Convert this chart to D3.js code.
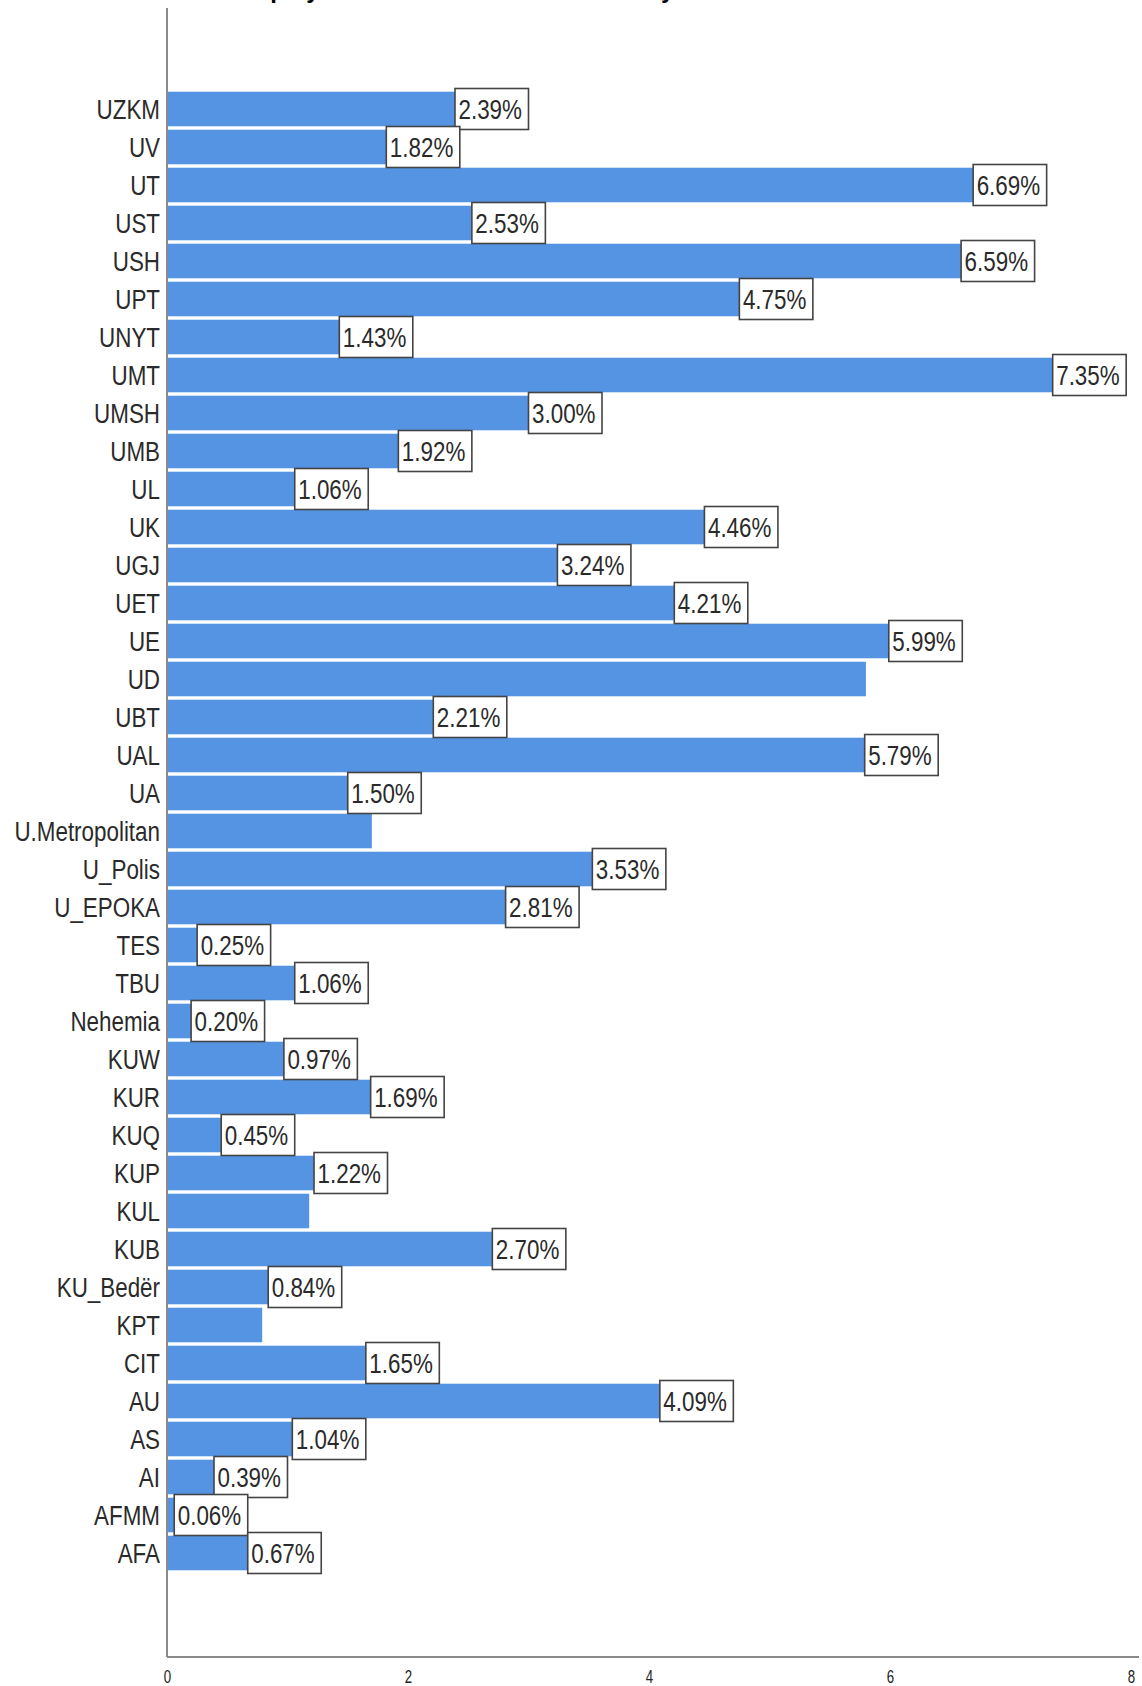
<!DOCTYPE html>
<html>

<head>
  <script src="https://d3js.org/d3.v7.min.js"></script>
  <style>
    body {
      margin: 0;
      background: #fff;
    }

    .chart text {
      font-family: "Liberation Sans", Arial, sans-serif;
    }

    .bar {
      fill: #5593e3;
    }

    .axis-line {
      stroke: #8a8a8a;
      stroke-width: 2;
    }

    .value-box {
      fill: #fff;
      stroke: #444;
      stroke-width: 1.6;
    }

    .title {
      font-size: 24px;
      font-weight: bold;
      fill: #000;
    }
  </style>
</head>

<body>
  <div id="viz"></div>

  <script>
    // universities, top to bottom
    const universities = ["UZKM", "UV", "UT", "UST", "USH", "UPT", "UNYT", "UMT", "UMSH", "UMB",
      "UL", "UK", "UGJ", "UET", "UE", "UD", "UBT", "UAL", "UA", "U.Metropolitan",
      "U_Polis", "U_EPOKA", "TES", "TBU", "Nehemia", "KUW", "KUR", "KUQ", "KUP", "KUL",
      "KUB", "KU_Bedër", "KPT", "CIT", "AU", "AS", "AI", "AFMM", "AFA"];

    // percentage per university
    const percents = [2.39, 1.82, 6.69, 2.53, 6.59, 4.75, 1.43, 7.35, 3.00, 1.92,
      1.06, 4.46, 3.24, 4.21, 5.99, 5.80, 2.21, 5.79, 1.50, 1.70,
      3.53, 2.81, 0.25, 1.06, 0.20, 0.97, 1.69, 0.45, 1.22, 1.18,
      2.70, 0.84, 0.79, 1.65, 4.09, 1.04, 0.39, 0.06, 0.67];

    // bars whose value label is not shown in the original
    const unlabelled = ["UD", "U.Metropolitan", "KUL", "KPT"];

    const xTicks = [0, 2, 4, 6, 8];

    const titleText = "Employment rate of all the students by institution";

    const data = universities.map((u, i) => ({ name: u, value: percents[i] }));

    const width = 1142, height = 1686;
    const svg = d3.select("#viz")
      .append("svg")
      .attr("class", "chart")
      .attr("width", width)
      .attr("height", height);

    const x = d3.scaleLinear()
      .domain([0, 8])
      .range([167, 1131]);

    const y = d3.scaleBand()
      .domain(universities)
      .range([90, 1572])
      .paddingInner(0.09)
      .paddingOuter(0.045);

    // title (cut off at the top, as in the original)
    svg.append("text")
      .attr("class", "title")
      .attr("x", 233)
      .attr("y", -2)
      .text(titleText);

    // bars
    svg.append("g")
      .selectAll("rect")
      .data(data)
      .enter().append("rect")
      .attr("class", "bar")
      .attr("x", x(0))
      .attr("y", d => y(d.name))
      .attr("width", d => x(d.value) - x(0))
      .attr("height", y.bandwidth());

    // y axis labels
    const yAxis = svg.append("g")
      .attr("transform", "translate(160,0)")
      .call(d3.axisLeft(y).tickSize(0).tickPadding(0));
    yAxis.select(".domain").remove();
    yAxis.selectAll("text")
      .attr("x", 0)
      .attr("dy", 0)
      .attr("y", 10)
      .attr("transform", "scale(0.8,1)")
      .attr("fill", "#2a2a2a")
      .style("font-size", "28px")
      .style("font-family", '"Liberation Sans", Arial, sans-serif');

    // x axis labels
    const axisY = 1657;
    const xAxis = svg.append("g")
      .attr("transform", `translate(0,${axisY})`)
      .call(d3.axisBottom(x).tickValues(xTicks).tickSize(0).tickFormat(d3.format("d")));
    xAxis.select(".domain").remove();
    xAxis.selectAll("text")
      .attr("y", 26)
      .attr("dy", 0)
      .attr("transform", "scale(0.7,1)")
      .attr("fill", "#222")
      .style("font-size", "19px")
      .style("font-family", '"Liberation Sans", Arial, sans-serif');

    // axis lines
    svg.append("line")
      .attr("class", "axis-line")
      .attr("x1", x(0)).attr("x2", x(0))
      .attr("y1", 8).attr("y2", axisY);
    svg.append("line")
      .attr("class", "axis-line")
      .attr("x1", x(0)).attr("x2", x.range()[1] + 8)
      .attr("y1", axisY).attr("y2", axisY);

    // value labels in boxes
    const labels = svg.append("g")
      .selectAll("g")
      .data(data.filter(d => !unlabelled.includes(d.name)))
      .enter().append("g")
      .attr("transform", d => `translate(${x(d.value)},${y(d.name) + y.bandwidth() / 2})`);

    const boxes = labels.append("rect")
      .attr("class", "value-box")
      .attr("y", -20.5)
      .attr("height", 41);

    labels.append("text")
      .attr("transform", "translate(3.5,10) scale(0.8,1)")
      .attr("fill", "#2a2a2a")
      .style("font-size", "28px")
      .text(d => d.value.toFixed(2) + "%");

    labels.each(function () {
      const g = d3.select(this);
      const w = g.select("text").node().getComputedTextLength() * 0.8;
      g.select("rect").attr("width", w + 10);
    });
  </script>
</body>

</html>
